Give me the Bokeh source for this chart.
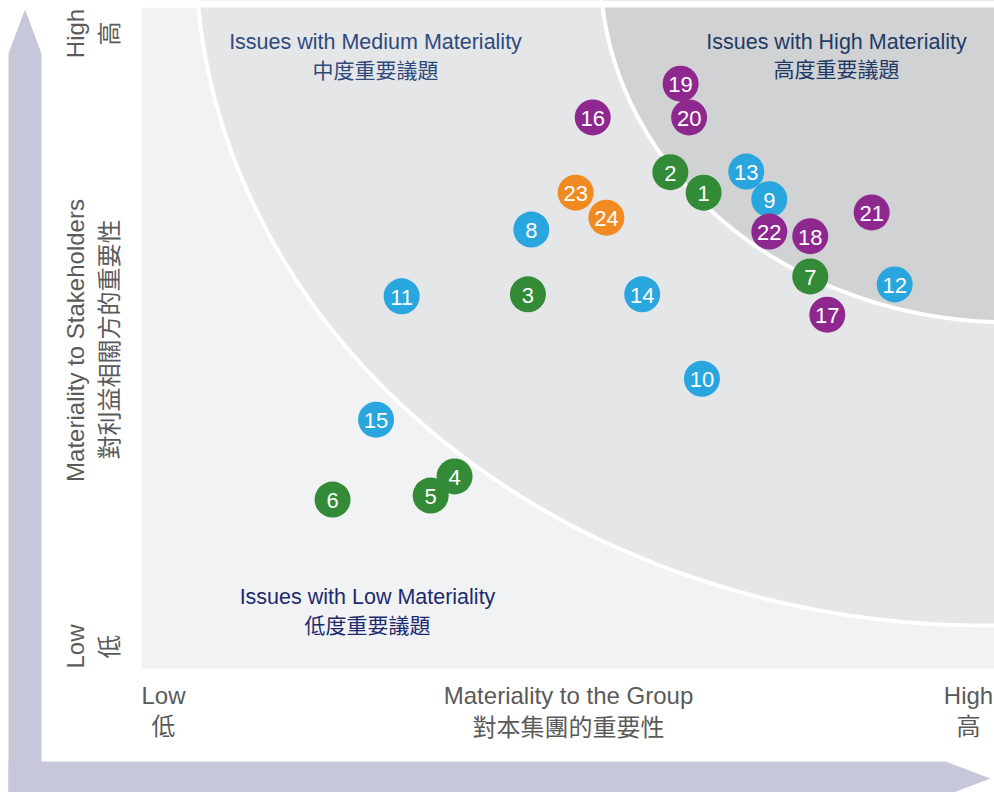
import math
from bokeh.plotting import figure
from bokeh.models import Range1d, Label, ColumnDataSource
from bokeh.core.properties import value
from bokeh.embed import file_html
from bokeh.resources import INLINE

# ---------------- data ----------------
issues = [str(i) for i in range(1, 25)]
group_score = [6.59, 6.20, 4.53, 3.67, 3.39, 2.24, 7.84, 4.57, 7.36, 6.57, 3.05, 8.83,
               7.09, 5.87, 2.75, 5.29, 8.04, 7.84, 6.32, 6.42, 8.56, 7.36, 5.09, 5.45]
stakeholder_score = [7.21, 7.52, 5.67, 2.91, 2.62, 2.56, 5.94, 6.65, 7.11, 4.39, 5.64, 5.82,
                     7.53, 5.67, 3.77, 8.35, 5.36, 6.55, 8.86, 8.35, 6.91, 6.62, 7.21, 6.83]
category = ["env"] * 7 + ["soc"] * 8 + ["gov"] * 7 + ["oth"] * 2

cat_colors = {"env": "#338b37", "soc": "#29a6de", "gov": "#8e288f", "oth": "#f18a21"}

# materiality zones (centre x, centre y, half-width, half-height) on the 0-10 scales
medium_zone = (9.894, 10.879, 9.261, 10.227)
high_zone = (10.188, 10.576, 4.807, 5.333)

x_label = ["Materiality to the Group", "對本集團的重要性"]
y_label = ["Materiality to Stakeholders", "對利益相關方的重要性"]
low_label = ["Low", "低"]
high_label = ["High", "高"]
zone_titles = {
    "medium": ["Issues with Medium Materiality", "中度重要議題"],
    "high": ["Issues with High Materiality", "高度重要議題"],
    "low": ["Issues with Low Materiality", "低度重要議題"],
}

# ---------------- layout helpers ----------------
W, H = 994, 792
X0, SX = 141.0, 85.3      # screen x of 0 on the group axis, px per unit
Y0, SY = 668.0, 66.0      # screen y of 0 on the stakeholder axis, px per unit


def px(X):
    return (X - X0) / SX


def py(Y):
    return (Y0 - Y) / SY


p = figure(width=W, height=H,
           x_range=Range1d(px(0), px(W)), y_range=Range1d(py(H), py(0)),
           output_backend="svg", toolbar_location=None,
           x_axis_location=None, y_axis_location=None, min_border=0)
p.grid.visible = False
p.outline_line_color = None
p.background_fill_color = "white"
p.border_fill_color = "white"

# background zones
p.quad(left=0, right=10, bottom=0, top=py(7), fill_color="#f1f2f4", line_color=None)
p.ellipse(x=medium_zone[0], y=medium_zone[1], width=2 * medium_zone[2], height=2 * medium_zone[3],
          fill_color="#e5e6e8", line_color="white", line_width=4)
p.ellipse(x=high_zone[0], y=high_zone[1], width=2 * high_zone[2], height=2 * high_zone[3],
          fill_color="#d1d2d4", line_color="white", line_width=4)
# keep the zones inside the panel
p.quad(left=px(0), right=px(W), bottom=py(7), top=py(0), fill_color="white", line_color=None)

# arrows
arrow_color = "#c6c7d9"
p.patch([px(8), px(8), px(24.5), px(41), px(41)],
        [py(800), py(53), py(9), py(53), py(800)], color=arrow_color, line_color=None)
p.patch([px(8), px(945), px(990), px(945), px(8)],
        [py(761), py(761), py(778), py(795), py(795)], color=arrow_color, line_color=None)

# bubbles (drawn top to bottom so lower ones overlap upper ones)
order = sorted(range(len(issues)), key=lambda i: -stakeholder_score[i])
src = ColumnDataSource(dict(
    x=[group_score[i] for i in order],
    y=[stakeholder_score[i] for i in order],
    t=[issues[i] for i in order],
    c=[cat_colors[category[i]] for i in order],
))
p.scatter(x="x", y="y", source=src, size=36, fill_color="c", line_color=None)
p.text(x="x", y="y", text="t", source=src, text_color="white",
       text_font=value("Liberation Sans"), text_font_size="22px",
       text_align="center", text_baseline="middle", y_offset=1)

EN = "Liberation Sans"
CJK = "Noto Sans CJK TC"


def lab(X, Y, text, size, color, font, angle=0.0):
    p.add_layout(Label(x=px(X), y=py(Y), text=text, text_font=font, text_font_size=size,
                       text_color=color, text_align="center", text_baseline="middle",
                       angle=angle))


# zone titles
lab(375, 41, zone_titles["medium"][0], "21.5px", "#2e4a7d", EN)
lab(375, 68, zone_titles["medium"][1], "21px", "#2e4a7d", CJK)
lab(836, 41, zone_titles["high"][0], "21.5px", "#1f3a66", EN)
lab(836, 67, zone_titles["high"][1], "21px", "#1f3a66", CJK)
lab(367, 596, zone_titles["low"][0], "21.5px", "#1d2a6e", EN)
lab(367, 623, zone_titles["low"][1], "21px", "#1d2a6e", CJK)

axis_grey = "#5a5a5a"
# horizontal axis
lab(163, 695, low_label[0], "24px", axis_grey, EN)
lab(163, 724, low_label[1], "24px", axis_grey, CJK)
lab(568, 695, x_label[0], "24px", axis_grey, EN)
lab(568, 725, x_label[1], "24px", axis_grey, CJK)
lab(968, 695, high_label[0], "24px", axis_grey, EN)
lab(968, 724, high_label[1], "24px", axis_grey, CJK)

# vertical axis
r = math.pi / 2
lab(75, 33, high_label[0], "24px", axis_grey, EN, r)
lab(107, 33, high_label[1], "24px", axis_grey, CJK, r)
lab(75, 340, y_label[0], "24px", axis_grey, EN, r)
lab(107, 339, y_label[1], "24px", axis_grey, CJK, r)
lab(75, 646, low_label[0], "24px", axis_grey, EN, r)
lab(107, 646, low_label[1], "24px", axis_grey, CJK, r)

open("out.html", "w").write(file_html(p, INLINE))
